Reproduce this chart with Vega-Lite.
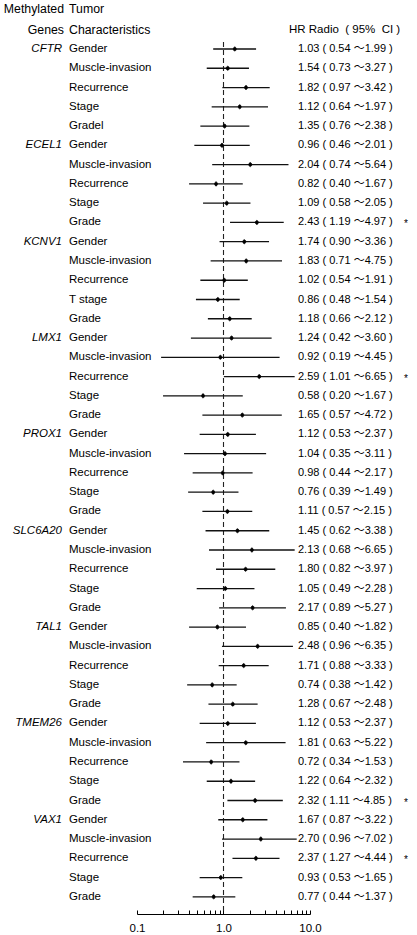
{
  "$schema": "https://vega.github.io/schema/vega-lite/v6.json",
  "width": 173,
  "height": 914,
  "autosize": {"type": "none"},
  "padding": {"left": 137, "top": 0, "right": 107, "bottom": 21},
  "background": "white",
  "config": {"view": {"stroke": null}, "font": "Liberation Sans"},
  "datasets": {
    "rows": [
      {"row": 0, "gene": "CFTR", "char": "Gender", "hr": 1.35, "lo": 0.76, "hi": 2.38, "label": "1.03 ( 0.54 ～1.99 )", "sig": ""},
      {"row": 1, "gene": "", "char": "Muscle-invasion", "hr": 1.12, "lo": 0.64, "hi": 1.97, "label": "1.54 ( 0.73 ～3.27 )", "sig": ""},
      {"row": 2, "gene": "", "char": "Recurrence", "hr": 1.82, "lo": 0.97, "hi": 3.42, "label": "1.82 ( 0.97 ～3.42 )", "sig": ""},
      {"row": 3, "gene": "", "char": "Stage", "hr": 1.54, "lo": 0.73, "hi": 3.27, "label": "1.12 ( 0.64 ～1.97 )", "sig": ""},
      {"row": 4, "gene": "", "char": "Gradel", "hr": 1.03, "lo": 0.54, "hi": 1.99, "label": "1.35 ( 0.76 ～2.38 )", "sig": ""},
      {"row": 5, "gene": "ECEL1", "char": "Gender", "hr": 0.96, "lo": 0.46, "hi": 2.01, "label": "0.96 ( 0.46 ～2.01 )", "sig": ""},
      {"row": 6, "gene": "", "char": "Muscle-invasion", "hr": 2.04, "lo": 0.74, "hi": 5.64, "label": "2.04 ( 0.74 ～5.64 )", "sig": ""},
      {"row": 7, "gene": "", "char": "Recurrence", "hr": 0.82, "lo": 0.40, "hi": 1.67, "label": "0.82 ( 0.40 ～1.67 )", "sig": ""},
      {"row": 8, "gene": "", "char": "Stage", "hr": 1.09, "lo": 0.58, "hi": 2.05, "label": "1.09 ( 0.58 ～2.05 )", "sig": ""},
      {"row": 9, "gene": "", "char": "Grade", "hr": 2.43, "lo": 1.19, "hi": 4.97, "label": "2.43 ( 1.19 ～4.97 )", "sig": "*"},
      {"row": 10, "gene": "KCNV1", "char": "Gender", "hr": 1.74, "lo": 0.90, "hi": 3.36, "label": "1.74 ( 0.90 ～3.36 )", "sig": ""},
      {"row": 11, "gene": "", "char": "Muscle-invasion", "hr": 1.83, "lo": 0.71, "hi": 4.75, "label": "1.83 ( 0.71 ～4.75 )", "sig": ""},
      {"row": 12, "gene": "", "char": "Recurrence", "hr": 1.02, "lo": 0.54, "hi": 1.91, "label": "1.02 ( 0.54 ～1.91 )", "sig": ""},
      {"row": 13, "gene": "", "char": "T stage", "hr": 0.86, "lo": 0.48, "hi": 1.54, "label": "0.86 ( 0.48 ～1.54 )", "sig": ""},
      {"row": 14, "gene": "", "char": "Grade", "hr": 1.18, "lo": 0.66, "hi": 2.12, "label": "1.18 ( 0.66 ～2.12 )", "sig": ""},
      {"row": 15, "gene": "LMX1", "char": "Gender", "hr": 1.24, "lo": 0.42, "hi": 3.60, "label": "1.24 ( 0.42 ～3.60 )", "sig": ""},
      {"row": 16, "gene": "", "char": "Muscle-invasion", "hr": 0.92, "lo": 0.19, "hi": 4.45, "label": "0.92 ( 0.19 ～4.45 )", "sig": ""},
      {"row": 17, "gene": "", "char": "Recurrence", "hr": 2.59, "lo": 1.01, "hi": 6.65, "label": "2.59 ( 1.01 ～6.65 )", "sig": "*"},
      {"row": 18, "gene": "", "char": "Stage", "hr": 0.58, "lo": 0.20, "hi": 1.67, "label": "0.58 ( 0.20 ～1.67 )", "sig": ""},
      {"row": 19, "gene": "", "char": "Grade", "hr": 1.65, "lo": 0.57, "hi": 4.72, "label": "1.65 ( 0.57 ～4.72 )", "sig": ""},
      {"row": 20, "gene": "PROX1", "char": "Gender", "hr": 1.12, "lo": 0.53, "hi": 2.37, "label": "1.12 ( 0.53 ～2.37 )", "sig": ""},
      {"row": 21, "gene": "", "char": "Muscle-invasion", "hr": 1.04, "lo": 0.35, "hi": 3.11, "label": "1.04 ( 0.35 ～3.11 )", "sig": ""},
      {"row": 22, "gene": "", "char": "Recurrence", "hr": 0.98, "lo": 0.44, "hi": 2.17, "label": "0.98 ( 0.44 ～2.17 )", "sig": ""},
      {"row": 23, "gene": "", "char": "Stage", "hr": 0.76, "lo": 0.39, "hi": 1.49, "label": "0.76 ( 0.39 ～1.49 )", "sig": ""},
      {"row": 24, "gene": "", "char": "Grade", "hr": 1.11, "lo": 0.57, "hi": 2.15, "label": "1.11 ( 0.57 ～2.15 )", "sig": ""},
      {"row": 25, "gene": "SLC6A20", "char": "Gender", "hr": 1.45, "lo": 0.62, "hi": 3.38, "label": "1.45 ( 0.62 ～3.38 )", "sig": ""},
      {"row": 26, "gene": "", "char": "Muscle-invasion", "hr": 2.13, "lo": 0.68, "hi": 6.65, "label": "2.13 ( 0.68 ～6.65 )", "sig": ""},
      {"row": 27, "gene": "", "char": "Recurrence", "hr": 1.80, "lo": 0.82, "hi": 3.97, "label": "1.80 ( 0.82 ～3.97 )", "sig": ""},
      {"row": 28, "gene": "", "char": "Stage", "hr": 1.05, "lo": 0.49, "hi": 2.28, "label": "1.05 ( 0.49 ～2.28 )", "sig": ""},
      {"row": 29, "gene": "", "char": "Grade", "hr": 2.17, "lo": 0.89, "hi": 5.27, "label": "2.17 ( 0.89 ～5.27 )", "sig": ""},
      {"row": 30, "gene": "TAL1", "char": "Gender", "hr": 0.85, "lo": 0.40, "hi": 1.82, "label": "0.85 ( 0.40 ～1.82 )", "sig": ""},
      {"row": 31, "gene": "", "char": "Muscle-invasion", "hr": 2.48, "lo": 0.96, "hi": 6.35, "label": "2.48 ( 0.96 ～6.35 )", "sig": ""},
      {"row": 32, "gene": "", "char": "Recurrence", "hr": 1.71, "lo": 0.88, "hi": 3.33, "label": "1.71 ( 0.88 ～3.33 )", "sig": ""},
      {"row": 33, "gene": "", "char": "Stage", "hr": 0.74, "lo": 0.38, "hi": 1.42, "label": "0.74 ( 0.38 ～1.42 )", "sig": ""},
      {"row": 34, "gene": "", "char": "Grade", "hr": 1.28, "lo": 0.67, "hi": 2.48, "label": "1.28 ( 0.67 ～2.48 )", "sig": ""},
      {"row": 35, "gene": "TMEM26", "char": "Gender", "hr": 1.12, "lo": 0.53, "hi": 2.37, "label": "1.12 ( 0.53 ～2.37 )", "sig": ""},
      {"row": 36, "gene": "", "char": "Muscle-invasion", "hr": 1.81, "lo": 0.63, "hi": 5.22, "label": "1.81 ( 0.63 ～5.22 )", "sig": ""},
      {"row": 37, "gene": "", "char": "Recurrence", "hr": 0.72, "lo": 0.34, "hi": 1.53, "label": "0.72 ( 0.34 ～1.53 )", "sig": ""},
      {"row": 38, "gene": "", "char": "Stage", "hr": 1.22, "lo": 0.64, "hi": 2.32, "label": "1.22 ( 0.64 ～2.32 )", "sig": ""},
      {"row": 39, "gene": "", "char": "Grade", "hr": 2.32, "lo": 1.11, "hi": 4.85, "label": "2.32 ( 1.11 ～4.85 )", "sig": "*"},
      {"row": 40, "gene": "VAX1", "char": "Gender", "hr": 1.67, "lo": 0.87, "hi": 3.22, "label": "1.67 ( 0.87 ～3.22 )", "sig": ""},
      {"row": 41, "gene": "", "char": "Muscle-invasion", "hr": 2.70, "lo": 0.96, "hi": 7.02, "label": "2.70 ( 0.96 ～7.02 )", "sig": ""},
      {"row": 42, "gene": "", "char": "Recurrence", "hr": 2.37, "lo": 1.27, "hi": 4.44, "label": "2.37 ( 1.27 ～4.44 )", "sig": "*"},
      {"row": 43, "gene": "", "char": "Stage", "hr": 0.93, "lo": 0.53, "hi": 1.65, "label": "0.93 ( 0.53 ～1.65 )", "sig": ""},
      {"row": 44, "gene": "", "char": "Grade", "hr": 0.77, "lo": 0.44, "hi": 1.37, "label": "0.77 ( 0.44 ～1.37 )", "sig": ""}
    ],
    "headers": [
      {"row": -2.1, "col1": "Methylated", "col2": "Tumor", "col3": ""},
      {"row": -1, "col1": "Genes", "col2": "Characteristics", "col3": "HR Radio\u00a0\u00a0(\u00a095%\u00a0\u00a0CI\u00a0)"}
    ]
  },
  "layer": [
    {
      "data": {"values": [{}]},
      "mark": {"type": "rule", "strokeDash": [5, 3], "color": "#222222", "strokeWidth": 1.1},
      "encoding": {
        "x": {"datum": 1, "type": "quantitative", "scale": {"type": "log", "domain": [0.1, 10], "nice": false}},
        "y": {"datum": -0.36, "type": "quantitative", "scale": {"domain": [-2.543, 44.89], "reverse": true, "nice": false, "zero": false}, "axis": null},
        "y2": {"datum": 44.89}
      }
    },
    {
      "data": {"name": "rows"},
      "mark": {"type": "rule", "color": "#111111", "strokeWidth": 1.3},
      "encoding": {
        "x": {
          "field": "lo", "type": "quantitative",
          "scale": {"type": "log", "domain": [0.1, 10], "nice": false},
          "axis": {
            "values": [0.1, 0.2, 0.3, 0.4, 0.5, 0.6, 0.7, 0.8, 0.9, 1, 2, 3, 4, 5, 6, 7, 8, 9, 10],
            "labelExpr": "datum.value == 0.1 ? '0.1' : datum.value == 1 ? '1.0' : datum.value == 10 ? '10.0' : ''",
            "tickSize": -4, "labelPadding": 12, "title": null, "grid": false,
            "domainColor": "#000000", "tickColor": "#000000", "labelColor": "#000000",
            "domainWidth": 1, "tickWidth": 1,
            "labelFontSize": 11.5, "labelFont": "Liberation Sans",
            "labelFlush": false, "labelOverlap": false, "labelBound": false
          }
        },
        "x2": {"field": "hi"},
        "y": {"field": "row", "type": "quantitative", "axis": null}
      }
    },
    {
      "data": {"name": "rows"},
      "mark": {"type": "point", "shape": "M0,-1A0.7,1,0,1,1,0,1A0.7,1,0,1,1,0,-1Z", "filled": true, "fill": "#000000", "stroke": "#000000", "strokeWidth": 0.8, "size": 16, "opacity": 1},
      "encoding": {
        "x": {"field": "hr", "type": "quantitative"},
        "y": {"field": "row", "type": "quantitative", "axis": null}
      }
    },
    {
      "data": {"name": "rows"},
      "mark": {"type": "text", "align": "right", "baseline": "middle", "fontStyle": "italic", "fontSize": 11.5, "x": -75, "color": "#000000"},
      "encoding": {
        "y": {"field": "row", "type": "quantitative"},
        "text": {"field": "gene"}
      }
    },
    {
      "data": {"name": "rows"},
      "mark": {"type": "text", "align": "left", "baseline": "middle", "fontSize": 11.5, "x": -68, "color": "#000000"},
      "encoding": {
        "y": {"field": "row", "type": "quantitative"},
        "text": {"field": "char"}
      }
    },
    {
      "data": {"name": "rows"},
      "mark": {"type": "text", "align": "left", "baseline": "middle", "fontSize": 11, "x": 161, "color": "#000000", "font": "Liberation Sans, Noto Sans CJK SC"},
      "encoding": {
        "y": {"field": "row", "type": "quantitative"},
        "text": {"field": "label"}
      }
    },
    {
      "data": {"name": "rows"},
      "mark": {"type": "text", "align": "left", "baseline": "middle", "fontSize": 10, "x": 267, "dy": 2, "color": "#000000"},
      "encoding": {
        "y": {"field": "row", "type": "quantitative"},
        "text": {"field": "sig"}
      }
    },
    {
      "data": {"name": "headers"},
      "mark": {"type": "text", "align": "right", "baseline": "middle", "fontSize": 12.3, "x": -73, "color": "#000000"},
      "encoding": {
        "y": {"field": "row", "type": "quantitative"},
        "text": {"field": "col1"}
      }
    },
    {
      "data": {"name": "headers"},
      "mark": {"type": "text", "align": "left", "baseline": "middle", "fontSize": 12.3, "x": -68, "color": "#000000"},
      "encoding": {
        "y": {"field": "row", "type": "quantitative"},
        "text": {"field": "col2"}
      }
    },
    {
      "data": {"name": "headers"},
      "mark": {"type": "text", "align": "left", "baseline": "middle", "fontSize": 11.5, "x": 152, "color": "#000000"},
      "encoding": {
        "y": {"field": "row", "type": "quantitative"},
        "text": {"field": "col3"}
      }
    }
  ]
}
